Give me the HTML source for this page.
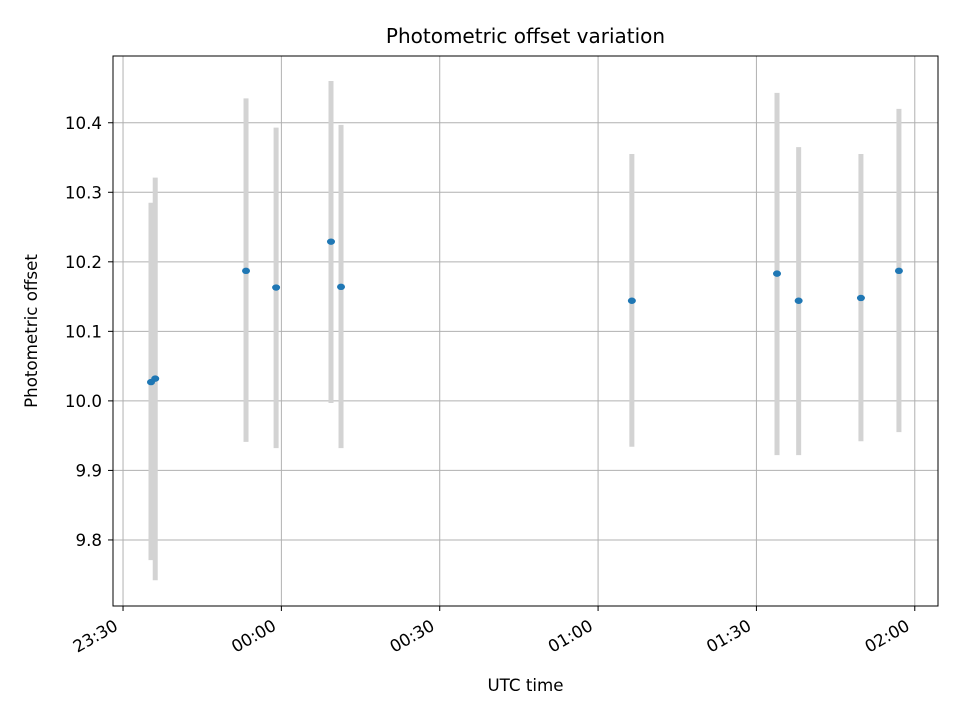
<!DOCTYPE html>
<html><head><meta charset="utf-8"><style>
html,body{margin:0;padding:0;background:#fff;}
svg text{font-family:"DejaVu Sans","Liberation Sans",sans-serif;}
</style></head><body>
<svg id="chart" width="960" height="720" xmlns="http://www.w3.org/2000/svg">
<rect width="960" height="720" fill="#fff"/>
<g id="grid"></g><g id="bars"></g><g id="pts"></g><g id="axes"></g>
</svg>
<script>
// minutes after 23:30
const times = [5.3, 6.1, 23.3, 29.0, 39.4, 41.3, 96.4, 123.9, 128.0, 139.8, 147.0];
const values = [10.027, 10.032, 10.187, 10.163, 10.229, 10.164, 10.144, 10.183, 10.144, 10.148, 10.187];
const errLow = [9.771, 9.742, 9.941, 9.932, 9.997, 9.932, 9.934, 9.922, 9.922, 9.942, 9.955];
const errHigh = [10.285, 10.321, 10.435, 10.393, 10.460, 10.397, 10.355, 10.443, 10.365, 10.355, 10.420];
const xTickVals = [0, 30, 60, 90, 120, 150];
const xTickLabels = ["23:30", "00:00", "00:30", "01:00", "01:30", "02:00"];
const yTickVals = [9.8, 9.9, 10.0, 10.1, 10.2, 10.3, 10.4];
const yTickLabels = ["9.8", "9.9", "10.0", "10.1", "10.2", "10.3", "10.4"];

const L=113,R=938,T=56,B=606;
const xMin=-1.9,xMax=154.4,yMin=9.705,yMax=10.496;
const X=v=>L+(v-xMin)/(xMax-xMin)*(R-L);
const Y=v=>B-(v-yMin)/(yMax-yMin)*(B-T);
const NS="http://www.w3.org/2000/svg";
function mk(tag,attrs,parent){const e=document.createElementNS(NS,tag);for(const k in attrs)e.setAttribute(k,attrs[k]);document.getElementById(parent).appendChild(e);return e;}

xTickVals.forEach((v,i)=>{
  const x=X(v);
  const g=mk('line',{x1:x,x2:x,y1:T,y2:B,stroke:'#b0b0b0','stroke-width':1},'grid');
  
  
  const t=mk('line',{x1:x,x2:x,y1:B,y2:B+5,stroke:'#000','stroke-width':1},'axes');
  
  
  const ax=x-4, ay=B+23;
  const lb=mk('text',{x:ax,y:ay,'font-size':16.7,'text-anchor':'end',transform:`rotate(-30 ${ax} ${ay})`},'axes');
  lb.textContent=xTickLabels[i];
  
  
});
yTickVals.forEach((v,i)=>{
  const y=Y(v);
  const g=mk('line',{x1:L,x2:R,y1:y,y2:y,stroke:'#b0b0b0','stroke-width':1},'grid');
  
  
  const t=mk('line',{x1:L-5,x2:L,y1:y,y2:y,stroke:'#000','stroke-width':1},'axes');
  
  
  const lb=mk('text',{x:L-11,y:y+6,'font-size':16.7,'text-anchor':'end'},'axes');
  lb.textContent=yTickLabels[i];
  
  
});
times.forEach((t,i)=>{
  const b=mk('line',{x1:X(t),x2:X(t),y1:Y(errHigh[i]),y2:Y(errLow[i]),stroke:'#d3d3d3','stroke-width':5},'bars');
  
  
  const p=mk('ellipse',{cx:X(t),cy:Y(values[i]),rx:4,ry:3.2,fill:'#1f77b4'},'pts');
  
  
});
const fr=mk('rect',{x:L,y:T,width:R-L,height:B-T,fill:'none',stroke:'#000','stroke-width':1},'axes');


const ti=mk('text',{x:(L+R)/2,y:43,'font-size':20,'text-anchor':'middle'},'axes');
ti.textContent='Photometric offset variation';


const xl=mk('text',{x:(L+R)/2,y:691,'font-size':16.7,'text-anchor':'middle'},'axes');
xl.textContent='UTC time';


const yl=mk('text',{x:37,y:331,'font-size':16.7,'text-anchor':'middle',transform:'rotate(-90 37 331)'},'axes');
yl.textContent='Photometric offset';


</script>
</body></html>
